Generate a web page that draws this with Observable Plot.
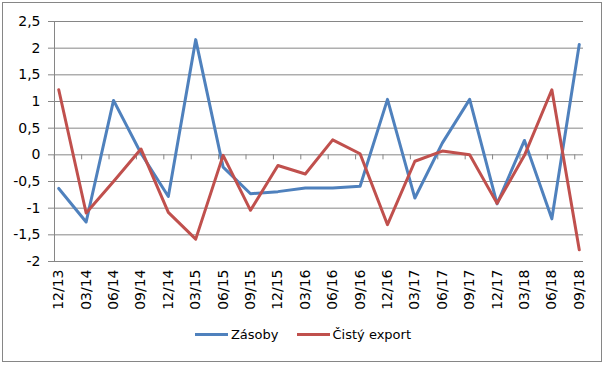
<!DOCTYPE html>
<html>
<head>
<meta charset="utf-8">
<script src="https://cdn.jsdelivr.net/npm/d3@7"></script>
<script src="https://cdn.jsdelivr.net/npm/@observablehq/plot@0.6"></script>
<style>
  html, body { margin: 0; padding: 0; background: #fff; }
  #wrap { position: relative; width: 606px; height: 367px; overflow: hidden; font-family: "DejaVu Sans", sans-serif; }
  #border { position: absolute; left: 2px; top: 2px; width: 600px; height: 360px; box-sizing: border-box; border: 1px solid #868686; pointer-events: none; }
  #chart { position: absolute; left: 0; top: 0; }
  #legend { position: absolute; left: 0; top: 327px; width: 606px; display: flex; justify-content: center; align-items: center; font-size: 13px; color: #000; }
  .item { display: flex; align-items: center; }
  .swatch { width: 33px; height: 3px; margin-right: 3px; }
</style>
</head>
<body>
<div id="wrap">
  <div id="chart"></div>
  <div id="legend"></div>
  <div id="border"></div>
</div>
<script>
const categories = ["12/13","03/14","06/14","09/14","12/14","03/15","06/15","09/15","12/15","03/16","06/16","09/16","12/16","03/17","06/17","09/17","12/17","03/18","06/18","09/18"];
const seriesNames = ["Zásoby", "Čistý export"];
const seriesColors = ["#4F81BD", "#C0504D"];
const zasoby = [-0.63,-1.26,1.02,0.03,-0.78,2.16,-0.23,-0.73,-0.69,-0.62,-0.62,-0.59,1.04,-0.81,0.22,1.04,-0.92,0.27,-1.2,2.07];
const cistyExport = [1.22,-1.09,-0.5,0.11,-1.08,-1.58,-0.01,-1.04,-0.2,-0.36,0.28,0.02,-1.31,-0.12,0.07,0.0,-0.91,-0.01,1.22,-1.78];
const yTicks = [-2,-1.5,-1,-0.5,0,0.5,1,1.5,2,2.5];

const table = [];
[zasoby, cistyExport].forEach((vals, s) => {
  vals.forEach((v, i) => table.push({cat: categories[i], value: v, series: seriesNames[s]}));
});

const fmt = d => String(d).replace(".", ",");

const chart = Plot.plot({
  width: 606,
  height: 322,
  marginLeft: 54,
  marginRight: 23,
  marginTop: 21,
  marginBottom: 61,
  style: {fontFamily: "DejaVu Sans", fontSize: "14px", color: "#000", background: "transparent"},
  x: {type: "point", domain: categories, padding: 0.155, round: false},
  y: {domain: [-2, 2.5]},
  color: {domain: seriesNames, range: seriesColors},
  marks: [
    Plot.ruleY(yTicks, {stroke: "#868686", strokeWidth: 1}),
    Plot.frame({anchor: "left", stroke: "#868686"}),
    Plot.ruleX(categories, {x: d => d, y1: 0, y2: 0, insetBottom: -5, dx: -4.5, stroke: "#868686"}),
    Plot.axisY({ticks: yTicks, tickFormat: fmt, tickSize: 6, tickPadding: 8, stroke: "#868686", fill: "#000", fontSize: 14, label: null}),
    Plot.axisX({tickRotate: -90, tickSize: 0, tickPadding: 8, fill: "#000", fontSize: 14, label: null}),
    Plot.line(table, {x: "cat", y: "value", z: "series", stroke: "series", strokeWidth: 3, strokeLinejoin: "round"})
  ]
});
document.getElementById("chart").appendChild(chart);

const legend = document.getElementById("legend");
seriesNames.forEach((name, i) => {
  const item = document.createElement("div");
  item.className = "item";
  if (i > 0) item.style.marginLeft = "18px";
  const sw = document.createElement("div");
  sw.className = "swatch";
  sw.style.background = seriesColors[i];
  const label = document.createElement("span");
  label.textContent = name;
  item.appendChild(sw);
  item.appendChild(label);
  legend.appendChild(item);
});
</script>
</body>
</html>
